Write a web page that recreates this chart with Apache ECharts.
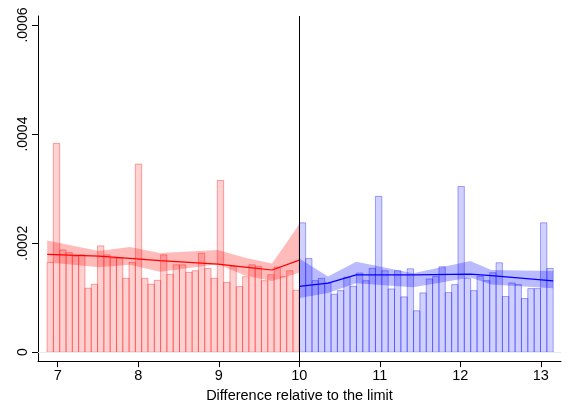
<!DOCTYPE html>
<html><head><meta charset="utf-8">
<script src="https://cdn.jsdelivr.net/npm/echarts@6/dist/echarts.min.js"></script>
<style>html,body{margin:0;padding:0;background:#fff}#c{width:568px;height:408px}</style>
</head><body><div id="c"></div>
<script>
// ---- data ----
const xTickValues = [7, 8, 9, 10, 11, 12, 13];
const xTickLabels = ['7', '8', '9', '10', '11', '12', '13'];
const yTickValues = [0, 0.0002, 0.0004, 0.0006];
const yTickLabels = ['0', '.0002', '.0004', '.0006'];
const xTitle = 'Difference relative to the limit';
const cutoff = 10;
const leftBinStart = 6.868;
const rightBinEnd = 13.153;

const leftCounts = [
  0.0001645, 0.000383, 0.0001876, 0.0001827, 0.0001755, 0.0001785, 0.0001173, 0.0001245, 0.000195, 0.0001785,
  0.0001724, 0.0001724, 0.0001355, 0.0001645, 0.000345, 0.0001355, 0.0001245, 0.0001318, 0.0001785, 0.0001427,
  0.0001603, 0.0001603, 0.0001464, 0.0001494, 0.0001815, 0.0001536, 0.0001355, 0.000315, 0.000128, 0.0001573,
  0.0001203, 0.0001385, 0.0001603, 0.0001573, 0.0001312, 0.0001421, 0.000156, 0.0001385, 0.0001494, 0.0001136
];
const rightCounts = [
  0.0002373, 0.0001718, 0.0001312, 0.0001355, 0.000127, 0.0001064, 0.000113, 0.0001373, 0.0001209, 0.0001452,
  0.0001312, 0.0001536, 0.0002858, 0.0001494, 0.000116, 0.0001494, 0.0001015, 0.000153, 0.000076, 0.0001088,
  0.0001343, 0.000139, 0.0001567, 0.0001094, 0.000124, 0.000304, 0.0001355, 0.000113, 0.0001391, 0.0001312,
  0.0001458, 0.000164, 0.0001022, 0.000127, 0.000124, 0.0000985, 0.0001167, 0.0001167, 0.0002373, 0.0001536
];

const leftFitX     = [6.869, 7.510, 7.896, 8.269, 8.990, 9.326, 9.662, 10.0];
const leftFit      = [0.0001794, 0.0001761, 0.0001722, 0.0001680, 0.0001617, 0.0001562, 0.0001508, 0.0001689];
const leftUpper    = [0.0002051, 0.0001857, 0.0001929, 0.0001821, 0.0001875, 0.0001731, 0.0001627, 0.0002345];
const leftLower    = [0.0001649, 0.0001559, 0.0001604, 0.0001477, 0.0001613, 0.0001405, 0.0001306, 0.0001459];

const rightFitX    = [10.0, 10.357, 10.706, 11.415, 12.124, 12.385, 13.153];
const rightFit     = [0.0001206, 0.0001266, 0.0001418, 0.0001418, 0.0001432, 0.0001405, 0.0001309];
const rightUpper   = [0.0001718, 0.0001387, 0.0001658, 0.0001447, 0.0001671, 0.0001508, 0.0001490];
const rightLower   = [0.0000995, 0.0001085, 0.0001266, 0.0001193, 0.0001369, 0.0001242, 0.0001175];

// ---- build ----
function bins(start, end, counts) {
  const w = (end - start) / counts.length;
  return counts.map((v, i) => [start + i * w, start + (i + 1) * w, v]);
}
const leftBins = bins(leftBinStart, cutoff, leftCounts);
const rightBins = bins(cutoff, rightBinEnd, rightCounts);

function barSeries(data, fill, stroke) {
  return {
    type: 'custom', z: 2, silent: true, data: data,
    encode: { x: [0, 1], y: 2 },
    renderItem: function (params, api) {
      const p0 = api.coord([api.value(0), api.value(2)]);
      const p1 = api.coord([api.value(1), 0]);
      return {
        type: 'rect',
        shape: { x: p0[0], y: p0[1], width: p1[0] - p0[0], height: p1[1] - p0[1] },
        style: { fill: fill, stroke: stroke, lineWidth: 1 }
      };
    }
  };
}
function bandSeries(xs, lo, hi, fill) {
  return {
    type: 'custom', z: 3, silent: true,
    data: xs.map((x, i) => [x, lo[i], hi[i]]),
    encode: { x: 0, y: [1, 2] },
    renderItem: function (params, api) {
      if (params.dataIndex !== 0) return null;
      const pts = [];
      for (let i = 0; i < xs.length; i++) pts.push(api.coord([xs[i], hi[i]]));
      for (let i = xs.length - 1; i >= 0; i--) pts.push(api.coord([xs[i], lo[i]]));
      return { type: 'polygon', shape: { points: pts }, style: { fill: fill } };
    }
  };
}
function lineSeries(xs, ys, color) {
  return {
    type: 'line', z: 4, silent: true, symbol: 'none',
    data: xs.map((x, i) => [x, ys[i]]),
    lineStyle: { color: color, width: 1.2 }
  };
}

const chart = echarts.init(document.getElementById('c'), null, { renderer: 'canvas' });
const font = '"Liberation Sans", Arial, Helvetica, sans-serif';
chart.setOption({
  animation: false,
  backgroundColor: '#ffffff',
  grid: { left: 38, right: 7, top: 16, bottom: 42, containLabel: false },
  xAxis: {
    type: 'value', min: 6.755, max: 13.25,
    name: xTitle, nameLocation: 'middle', nameGap: 22,
    nameTextStyle: { fontSize: 14.5, color: '#000', fontFamily: font },
    axisLine: { show: true, onZero: false, lineStyle: { color: '#000', width: 1 } },
    axisTick: { show: true, customValues: xTickValues, length: 6, lineStyle: { color: '#000' } },
    axisLabel: {
      customValues: xTickValues, fontSize: 14.5, color: '#000', fontFamily: font, margin: 7,
      formatter: v => xTickLabels[xTickValues.indexOf(v)] ?? String(v)
    },
    splitLine: { show: false }
  },
  yAxis: {
    type: 'value', min: -0.0000163, max: 0.0006166,
    axisLine: { show: true, onZero: false, lineStyle: { color: '#000', width: 1 } },
    axisTick: { show: true, customValues: yTickValues, length: 6, lineStyle: { color: '#000' } },
    axisLabel: {
      customValues: yTickValues, rotate: 90, fontSize: 14, color: '#000', fontFamily: font, margin: 8,
      formatter: function (v) {
        let best = 0;
        yTickValues.forEach((t, i) => { if (Math.abs(t - v) < Math.abs(yTickValues[best] - v)) best = i; });
        return yTickLabels[best];
      }
    },
    splitLine: { show: false }
  },
  series: [
    {
      type: 'line', z: 1, silent: true, data: [],
      markLine: {
        silent: true, symbol: ['none', 'none'], label: { show: false },
        lineStyle: { color: '#e4ecef', width: 1, type: 'solid' },
        data: [{ yAxis: yTickValues[0] }, { yAxis: yTickValues[1] }, { yAxis: yTickValues[2] }]
      }
    },
    barSeries(leftBins, 'rgba(255,0,0,0.18)', 'rgba(255,0,0,0.34)'),
    barSeries(rightBins, 'rgba(0,0,255,0.18)', 'rgba(0,0,255,0.34)'),
    bandSeries(leftFitX, leftLower, leftUpper, 'rgba(255,0,0,0.27)'),
    bandSeries(rightFitX, rightLower, rightUpper, 'rgba(0,0,255,0.27)'),
    lineSeries(leftFitX, leftFit, '#ff0000'),
    lineSeries(rightFitX, rightFit, '#0000ff'),
    {
      type: 'line', z: 5, silent: true, data: [],
      markLine: {
        silent: true, symbol: ['none', 'none'], label: { show: false },
        lineStyle: { color: '#000', width: 1, type: 'solid' },
        data: [{ xAxis: cutoff }]
      }
    }
  ]
});
</script>
</body></html>
